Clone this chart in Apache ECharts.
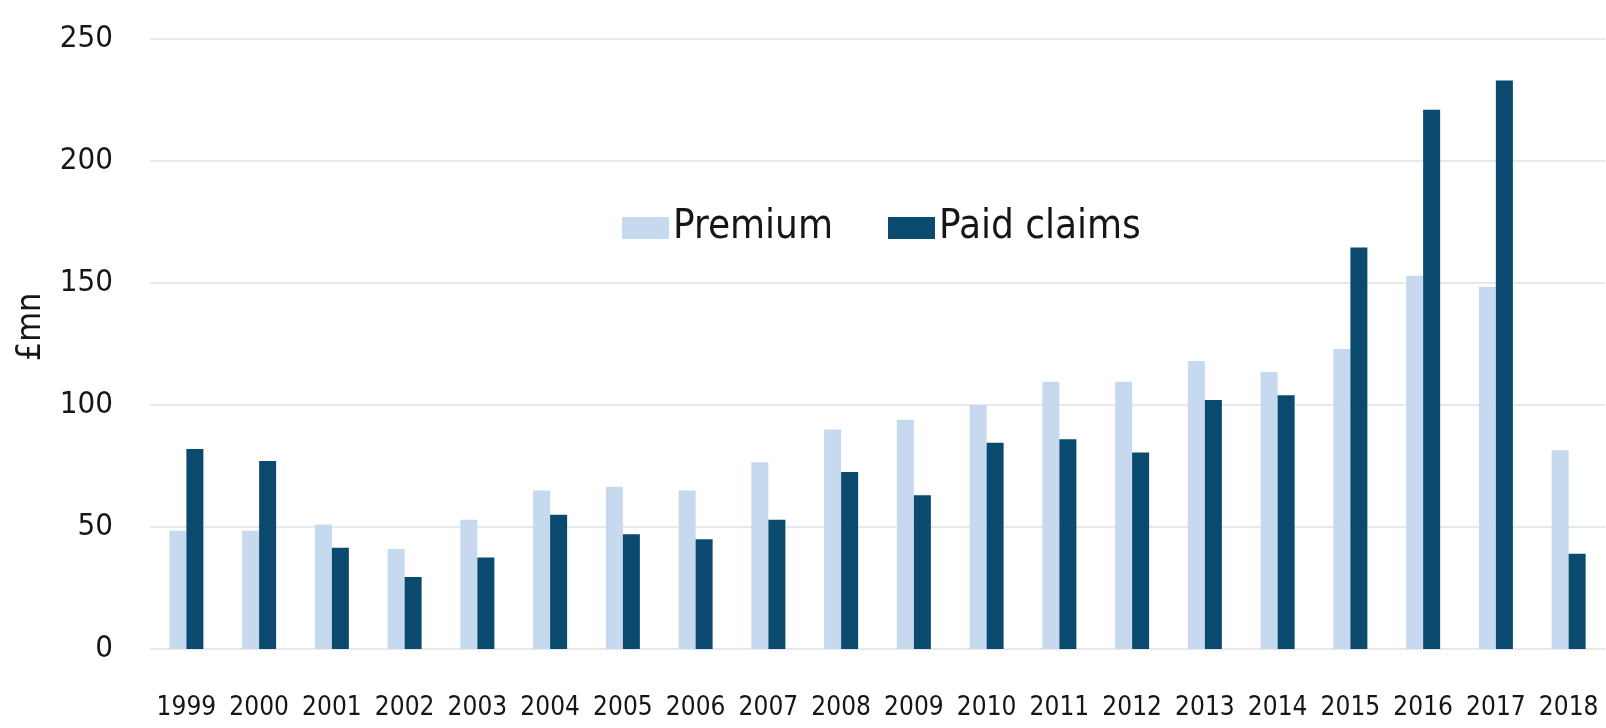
<!DOCTYPE html>
<html>
<head>
<meta charset="utf-8">
<title>Premium and paid claims</title>
<script src="https://cdn.jsdelivr.net/npm/echarts@6/dist/echarts.min.js"></script>
<style>
  html, body { margin: 0; padding: 0; background: #ffffff; }
  #chart { width: 1606px; height: 728px; }
</style>
</head>
<body>
<div id="chart"></div>
<script>
// Annual figures, £mn
const years = ['1999','2000','2001','2002','2003','2004','2005','2006','2007','2008',
               '2009','2010','2011','2012','2013','2014','2015','2016','2017','2018'];
const premium = [48.5, 48.5, 51, 41, 53, 65, 66.5, 65, 76.5, 90,
                 94, 100, 109.5, 109.5, 118, 113.5, 123, 153, 148.5, 81.5];
const paidClaims = [82, 77, 41.5, 29.5, 37.5, 55, 47, 45, 53, 72.5,
                    63, 84.5, 86, 80.5, 102, 104, 164.5, 221, 233, 39];
const yTicks = { min: 0, max: 250, step: 50 };

const condensed = "'DejaVu Sans Condensed', 'DejaVu Sans', sans-serif";
const textColor = '#161616';

const chart = echarts.init(document.getElementById('chart'), null, { renderer: 'canvas' });
chart.setOption({
  backgroundColor: '#ffffff',
  animation: false,
  grid: { left: 150, right: 1, top: 39, bottom: 79, containLabel: false },
  legend: {
    data: ['Premium', 'Paid claims'],
    left: 622,
    top: 208,
    padding: 0,
    itemWidth: 47,
    itemHeight: 22,
    itemGap: 55,
    icon: 'rect',
    textStyle: { fontFamily: condensed, fontSize: 40, color: textColor, padding: [0, 0, 0, -1] }
  },
  xAxis: {
    type: 'category',
    data: years,
    axisLine: { show: false },
    axisTick: { show: false },
    axisLabel: { interval: 0, margin: 46, fontFamily: condensed, fontSize: 26, color: textColor }
  },
  yAxis: {
    type: 'value',
    min: yTicks.min,
    max: yTicks.max,
    interval: yTicks.step,
    name: '£mn',
    nameLocation: 'middle',
    nameGap: 102,
    nameRotate: 90,
    nameTextStyle: { fontFamily: condensed, fontSize: 34, color: textColor, padding: [0, 0, 0, 34] },
    axisLine: { show: false },
    axisTick: { show: false },
    axisLabel: { margin: 37, fontFamily: condensed, fontSize: 31, color: textColor },
    splitLine: { lineStyle: { color: '#e8e8e8', width: 2 } }
  },
  series: [
    {
      name: 'Premium',
      type: 'bar',
      data: premium,
      barWidth: 17,
      barGap: '0%',
      itemStyle: { color: '#c6d9ef' }
    },
    {
      name: 'Paid claims',
      type: 'bar',
      data: paidClaims,
      barWidth: 17,
      itemStyle: { color: '#0a4a6e' }
    }
  ]
});
</script>
</body>
</html>
